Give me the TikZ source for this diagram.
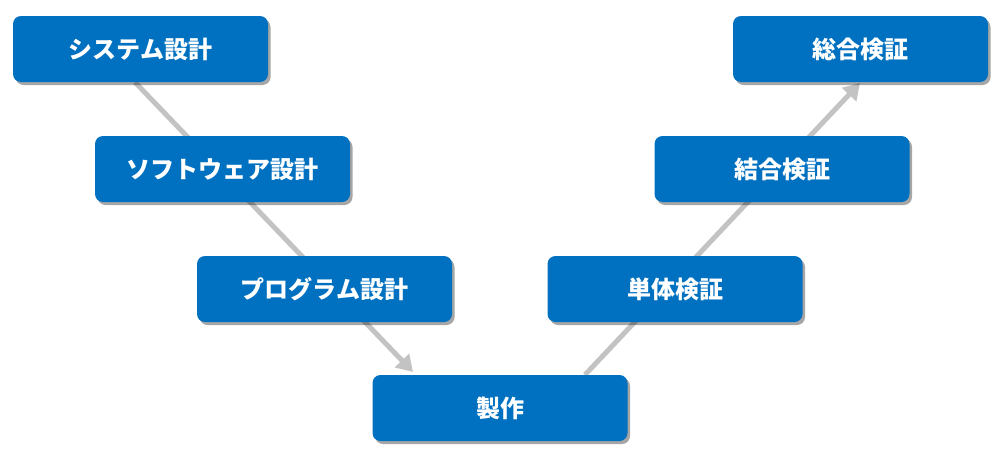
\documentclass[tikz,border=0pt]{standalone}
\usepackage{fontspec}
\newfontfamily\jp{Noto Sans CJK JP}
\usetikzlibrary{arrows.meta,shadows,backgrounds}
\definecolor{boxblue}{HTML}{0070C0}
\definecolor{linkgray}{HTML}{C3C3C3}
\begin{document}
\begin{tikzpicture}[x=1pt, y=-1pt,
        phase/.style={fill=boxblue, rounded corners=8pt, minimum width=255pt, minimum height=66pt,
            text=white, font=\jp\bfseries\fontsize{24}{24}\selectfont,
            drop shadow={shadow xshift=2.5pt, shadow yshift=-3pt, opacity=0.35, fill=black}},
        link/.style={draw=linkgray, line width=5pt, -{Triangle[length=16pt, width=19pt]}}]
        \useasboundingbox (0, 0) rectangle (1001, 458);
        \node[phase] (sys) at (140.5, 49) {システム設計};
        \node[phase] (soft) at (222.5, 169) {ソフトウェア設計};
        \node[phase] (prog) at (324.5, 289) {プログラム設計};
        \node[phase] (make) at (500, 408) {製作};
        \node[phase] (unit) at (675, 289) {単体検証};
        \node[phase] (integ) at (782, 169) {結合検証};
        \node[phase] (total) at (860.5, 49) {総合検証};
        % tips of the two arrows
        \coordinate (lend) at (413, 372);
        \coordinate (rend) at (860, 83);
        % lines go under the boxes
        \begin{scope}[on background layer]
            \draw[link] ([xshift=-5.5pt]sys.south) -- (lend);
            \draw[link] ([xshift=85pt]make.north) -- (rend);
        \end{scope}
    \end{tikzpicture}
\end{document}
